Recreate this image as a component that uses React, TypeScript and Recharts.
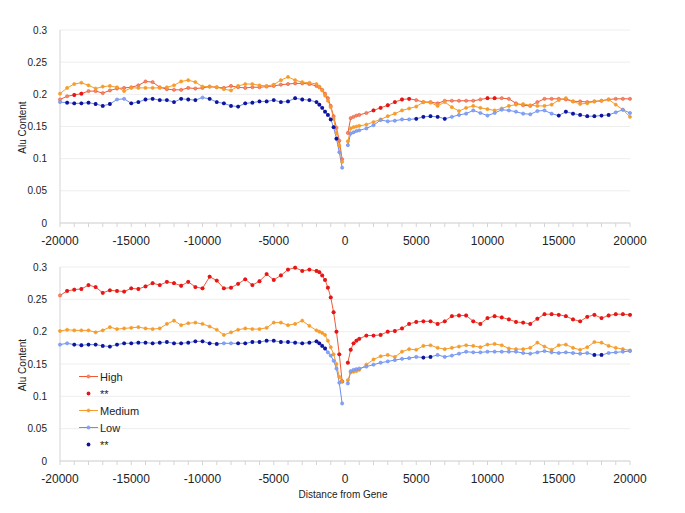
import { LineChart, Line, XAxis, YAxis, CartesianGrid, Label } from 'recharts';

// distance from gene (bp); 0 is left empty so the lines break at the gene
const DIST = [
  -20000, -19500, -19000, -18500, -18000, -17500, -17000, -16500, -16000, -15500,
  -15000, -14500, -14000, -13500, -13000, -12500, -12000, -11500, -11000, -10500,
  -10000, -9500, -9000, -8500, -8000, -7500, -7000, -6500, -6000, -5500,
  -5000, -4500, -4000, -3500, -3000, -2500, -2000,
  -1800, -1600, -1400, -1200, -1000, -800, -600, -400, -200,
  0,
  200, 400, 600, 800, 1000,
  1500, 2000, 2500, 3000, 3500, 4000, 4500, 5000,
  5500, 6000, 6500, 7000, 7500, 8000, 8500, 9000,
  9500, 10000, 10500, 11000, 11500, 12000, 12500, 13000,
  13500, 14000, 14500, 15000, 15500, 16000, 16500, 17000,
  17500, 18000, 18500, 19000, 19500, 20000,
];

// top panel
const TOP_HIGH = [
  0.192, 0.197, 0.199, 0.201, 0.205, 0.205, 0.202, 0.206, 0.209, 0.210,
  0.211, 0.214, 0.220, 0.219, 0.211, 0.208, 0.207, 0.207, 0.210, 0.209,
  0.210, 0.212, 0.211, 0.210, 0.213, 0.211, 0.210, 0.211, 0.211, 0.212,
  0.213, 0.215, 0.216, 0.217, 0.217, 0.216, 0.213,
  0.211, 0.207, 0.201, 0.194, 0.182, 0.166, 0.148, 0.128, 0.099,
  null,
  0.140, 0.163, 0.165, 0.167, 0.168,
  0.171, 0.175, 0.179, 0.183, 0.188, 0.192, 0.193, 0.191,
  0.188, 0.188, 0.186, 0.190, 0.190, 0.190, 0.190, 0.190,
  0.192, 0.194, 0.194, 0.194, 0.193, 0.186, 0.183, 0.182,
  0.188, 0.193, 0.193, 0.193, 0.192, 0.189, 0.189, 0.188,
  0.189, 0.190, 0.192, 0.193, 0.193, 0.193,
];
const TOP_MED = [
  0.201, 0.210, 0.216, 0.218, 0.214, 0.209, 0.212, 0.213, 0.211, 0.205,
  0.210, 0.210, 0.210, 0.210, 0.210, 0.211, 0.214, 0.220, 0.222, 0.219,
  0.212, 0.212, 0.211, 0.208, 0.206, 0.213, 0.216, 0.216, 0.214, 0.213,
  0.215, 0.222, 0.227, 0.222, 0.219, 0.218, 0.216,
  0.212, 0.206, 0.198, 0.190, 0.180, 0.162, 0.140, 0.120, 0.095,
  null,
  0.127, 0.147, 0.149, 0.150, 0.151,
  0.153, 0.157, 0.161, 0.166, 0.170, 0.175, 0.178, 0.181,
  0.188, 0.187, 0.182, 0.188, 0.180, 0.174, 0.179, 0.182,
  0.179, 0.177, 0.175, 0.178, 0.182, 0.184, 0.185, 0.183,
  0.182, 0.182, 0.184, 0.191, 0.194, 0.189, 0.185, 0.186,
  0.189, 0.190, 0.192, 0.184, 0.176, 0.165,
];
const TOP_LOW = [
  0.188, 0.187, 0.186, 0.186, 0.187, 0.185, 0.182, 0.185, 0.192, 0.193,
  0.186, 0.188, 0.192, 0.193, 0.191, 0.191, 0.188, 0.193, 0.192, 0.191,
  0.195, 0.193, 0.188, 0.186, 0.182, 0.181, 0.186, 0.187, 0.189, 0.189,
  0.191, 0.188, 0.189, 0.194, 0.192, 0.191, 0.188,
  0.184, 0.179, 0.173, 0.168, 0.161, 0.149, 0.131, 0.110, 0.086,
  null,
  0.121, 0.139, 0.141, 0.143, 0.144,
  0.147, 0.152, 0.160, 0.158, 0.159, 0.161, 0.161, 0.162,
  0.165, 0.166, 0.165, 0.162, 0.165, 0.168, 0.170, 0.175,
  0.171, 0.167, 0.171, 0.176, 0.175, 0.173, 0.170, 0.169,
  0.174, 0.175, 0.170, 0.167, 0.173, 0.170, 0.168, 0.166,
  0.166, 0.167, 0.168, 0.172, 0.176, 0.171,
];

// bottom panel
const BOT_HIGH = [
  0.256, 0.263, 0.265, 0.266, 0.272, 0.269, 0.260, 0.264, 0.263, 0.262,
  0.267, 0.266, 0.270, 0.275, 0.272, 0.277, 0.275, 0.271, 0.277, 0.269,
  0.267, 0.285, 0.279, 0.267, 0.268, 0.274, 0.281, 0.272, 0.278, 0.289,
  0.280, 0.287, 0.296, 0.299, 0.294, 0.296, 0.294,
  0.292, 0.287, 0.280, 0.268, 0.253, 0.230, 0.200, 0.165, 0.123,
  null,
  0.152, 0.172, 0.182, 0.186, 0.189,
  0.194, 0.194, 0.195, 0.200, 0.201, 0.205, 0.212, 0.215,
  0.216, 0.216, 0.212, 0.216, 0.224, 0.225, 0.225, 0.216,
  0.212, 0.221, 0.224, 0.222, 0.219, 0.215, 0.214, 0.212,
  0.220, 0.227, 0.227, 0.226, 0.224, 0.219, 0.216, 0.223,
  0.226, 0.221, 0.225, 0.227, 0.227, 0.226,
];
const BOT_MED = [
  0.201, 0.203, 0.202, 0.202, 0.202, 0.199, 0.202, 0.207, 0.204, 0.205,
  0.206, 0.207, 0.205, 0.204, 0.205, 0.212, 0.217, 0.210, 0.213, 0.214,
  0.212, 0.208, 0.203, 0.195, 0.199, 0.203, 0.205, 0.204, 0.204, 0.206,
  0.214, 0.214, 0.210, 0.212, 0.217, 0.209, 0.202,
  0.200, 0.198, 0.195, 0.186, 0.176, 0.165, 0.150, 0.130, 0.123,
  null,
  0.125, 0.137, 0.138, 0.139, 0.141,
  0.149, 0.157, 0.162, 0.164, 0.161, 0.169, 0.173, 0.172,
  0.178, 0.179, 0.175, 0.173, 0.175, 0.177, 0.179, 0.178,
  0.176, 0.180, 0.181, 0.179, 0.174, 0.173, 0.173, 0.175,
  0.183, 0.177, 0.172, 0.179, 0.180, 0.175, 0.172, 0.176,
  0.184, 0.183, 0.178, 0.175, 0.173, 0.171,
];
const BOT_LOW = [
  0.180, 0.182, 0.180, 0.179, 0.180, 0.180, 0.178, 0.177, 0.180, 0.182,
  0.182, 0.183, 0.183, 0.182, 0.183, 0.184, 0.182, 0.182, 0.183, 0.185,
  0.185, 0.182, 0.181, 0.182, 0.182, 0.182, 0.182, 0.184, 0.184, 0.186,
  0.186, 0.184, 0.184, 0.183, 0.182, 0.183, 0.185,
  0.182, 0.178, 0.174, 0.168, 0.163, 0.155, 0.143, 0.121, 0.089,
  null,
  0.120, 0.139, 0.141, 0.142, 0.143,
  0.146, 0.149, 0.152, 0.154, 0.156, 0.158, 0.159, 0.161,
  0.160, 0.161, 0.164, 0.161, 0.163, 0.166, 0.169, 0.168,
  0.168, 0.169, 0.169, 0.169, 0.169, 0.169, 0.167, 0.166,
  0.168, 0.170, 0.168, 0.167, 0.168, 0.167, 0.166, 0.167,
  0.164, 0.164, 0.167, 0.168, 0.169, 0.170,
];

// stretches of distance marked significant (**)
const TOP_HIGH_SIG = [[-19000, -18500], [2000, 4500], [10000, 10500]];
const TOP_LOW_SIG = [[-19500, -16500], [-15000, -10500], [-9500, -600], [5000, 7000], [15000, 18500]];
const BOT_HIGH_SIG = [[-19500, -200], [200, 20000]];
const BOT_LOW_SIG = [[-19000, -9000], [-7500, -1400], [5500, 6000], [17500, 18000]];

const X_TICKS = [
  -20000, -19000, -18000, -17000, -16000, -15000, -14000, -13000, -12000, -11000,
  -10000, -9000, -8000, -7000, -6000, -5000, -4000, -3000, -2000, -1000, 0,
  1000, 2000, 3000, 4000, 5000, 6000, 7000, 8000, 9000, 10000,
  11000, 12000, 13000, 14000, 15000, 16000, 17000, 18000, 19000, 20000,
];
const Y_TICKS = [0, 0.05, 0.1, 0.15, 0.2, 0.25, 0.3];

const FONT = '"Liberation Sans", Arial, Helvetica, sans-serif';
const HIGH = '#ee5a36';
const HIGH_DOT = '#f4876a';
const HIGH_SIG = '#e8141c';
const MED = '#f59c2a';
const LOW = '#6b8ff0';
const LOW_DOT = '#86a3f4';
const LOW_SIG = '#13139a';

function inRanges(d: number, ranges: number[][]) {
  return ranges.some(([a, b]) => d >= a && d <= b);
}

function buildRows(high: any[], med: any[], low: any[], highSig: number[][], lowSig: number[][]) {
  return DIST.map((d, i) => ({
    d,
    high: high[i],
    med: med[i],
    low: low[i],
    highSig: high[i] != null && inRanges(d, highSig) ? high[i] : null,
    lowSig: low[i] != null && inRanges(d, lowSig) ? low[i] : null,
  }));
}

const topRows = buildRows(TOP_HIGH, TOP_MED, TOP_LOW, TOP_HIGH_SIG, TOP_LOW_SIG);
const botRows = buildRows(BOT_HIGH, BOT_MED, BOT_LOW, BOT_HIGH_SIG, BOT_LOW_SIG);

const yLabel = (props: any) => {
  const vb = props.viewBox;
  const cx = vb.x + 14;
  const cy = vb.y + vb.height / 2 + 1;
  return (
    <text x={cx} y={cy} transform={`rotate(-90 ${cx} ${cy})`} textAnchor="middle"
      dominantBaseline="central" fontSize={10} fill="#222" fontFamily={FONT}>
      Alu Content
    </text>
  );
};

const xLabel = (props: any) => {
  const vb = props.viewBox;
  return (
    <text x={vb.x + vb.width / 2 - 2} y={vb.y + 33} textAnchor="middle"
      dominantBaseline="central" fontSize={10} fill="#222" fontFamily={FONT}>
      Distance from Gene
    </text>
  );
};

function Panel({ rows, height, bottom, showXLabel }: { rows: any[]; height: number; bottom: number; showXLabel?: boolean }) {
  return (
    <LineChart width={685} height={height} data={rows} margin={{ top: 30, right: 55, bottom, left: 8 }}>
      <CartesianGrid vertical={false} stroke="#eeeeee" />
      <XAxis
        dataKey="d"
        type="number"
        domain={[-20000, 20000]}
        ticks={X_TICKS}
        interval={0}
        height={22}
        tickSize={4}
        tickMargin={9}
        stroke="#d4d4d4"
        tick={{ fill: '#222', fontSize: 12, fontFamily: FONT }}
        tickFormatter={(v: number) => (v % 5000 === 0 ? String(v) : '')}
      >
        {showXLabel && <Label content={xLabel} />}
      </XAxis>
      <YAxis
        type="number"
        domain={[0, 0.3]}
        ticks={Y_TICKS}
        width={52}
        tickLine={false}
        tickMargin={7}
        stroke="#d4d4d4"
        tick={{ fill: '#222', fontSize: 10, fontFamily: FONT }}
      >
        <Label content={yLabel} />
      </YAxis>
      <Line dataKey="high" type="linear" stroke={HIGH} strokeWidth={1}
        dot={{ r: 1.6, fill: HIGH_DOT, stroke: HIGH, strokeWidth: 0.6 }}
        activeDot={false} isAnimationActive={false} />
      <Line dataKey="highSig" type="linear" stroke="none" strokeWidth={0}
        dot={{ r: 1.9, fill: HIGH_SIG, stroke: 'none' }}
        activeDot={false} isAnimationActive={false} />
      <Line dataKey="med" type="linear" stroke={MED} strokeWidth={1}
        dot={{ r: 1.6, fill: MED, stroke: MED, strokeWidth: 0.6 }}
        activeDot={false} isAnimationActive={false} />
      <Line dataKey="low" type="linear" stroke={LOW} strokeWidth={1}
        dot={{ r: 1.6, fill: LOW_DOT, stroke: LOW, strokeWidth: 0.6 }}
        activeDot={false} isAnimationActive={false} />
      <Line dataKey="lowSig" type="linear" stroke="none" strokeWidth={0}
        dot={{ r: 1.9, fill: LOW_SIG, stroke: 'none' }}
        activeDot={false} isAnimationActive={false} />
    </LineChart>
  );
}

const LEGEND = [
  { name: 'High', color: HIGH, dot: HIGH_DOT, line: true },
  { name: '**', color: HIGH_SIG, dot: HIGH_SIG, line: false },
  { name: 'Medium', color: MED, dot: MED, line: true },
  { name: 'Low', color: LOW, dot: LOW_DOT, line: true },
  { name: '**', color: LOW_SIG, dot: LOW_SIG, line: false },
];

export default function App() {
  return (
    <div style={{ position: 'absolute', left: 0, top: 0, width: 685, height: 513, background: '#fff', overflow: 'hidden' }}>
      <div style={{ position: 'absolute', left: 0, top: 0 }}>
        <Panel rows={topRows} height={250} bottom={5} />
      </div>
      <div style={{ position: 'absolute', left: 0, top: 237 }}>
        <Panel rows={botRows} height={276} bottom={30} showXLabel />
      </div>
      <div style={{ position: 'absolute', left: 79, top: 368, fontFamily: FONT, fontSize: 11, color: '#222' }}>
        {LEGEND.map((item, i) => (
          <div key={i} style={{ display: 'flex', alignItems: 'center', height: 17 }}>
            <svg width={19} height={17} style={{ marginRight: 2 }}>
              {item.line && <line x1={0} y1={8.5} x2={19} y2={8.5} stroke={item.color} strokeWidth={1} />}
              <circle cx={9.5} cy={8.5} r={item.line ? 1.6 : 1.9} fill={item.dot} stroke={item.line ? item.color : 'none'} strokeWidth={0.6} />
            </svg>
            <span>{item.name}</span>
          </div>
        ))}
      </div>
    </div>
  );
}
